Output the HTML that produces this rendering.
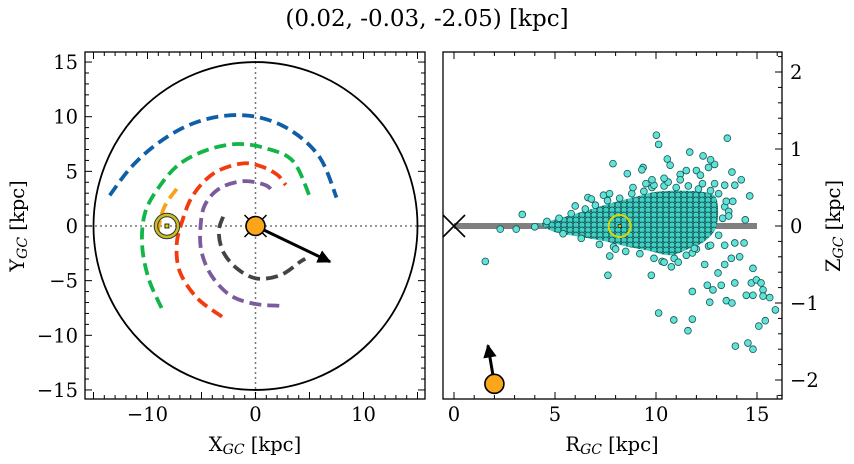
<!DOCTYPE html>
<html><head><meta charset="utf-8"><style>
html,body{margin:0;padding:0;background:#fff;}
svg{display:block;font-family:"DejaVu Serif","Liberation Serif",serif;}
</style></head><body>
<svg id="fig" width="854" height="464" viewBox="0 0 854 464" xmlns="http://www.w3.org/2000/svg">
<defs>
<pattern id="dots" width="6" height="5" patternUnits="userSpaceOnUse">
<rect width="6" height="5" fill="#1f8a85"/>
<circle cx="3" cy="2.5" r="3" fill="#3fcfc4" stroke="#0f4a47" stroke-width="0.8"/>
<circle cx="0" cy="0" r="3" fill="#3fcfc4" stroke="#0f4a47" stroke-width="0.8"/>
<circle cx="6" cy="0" r="3" fill="#3fcfc4" stroke="#0f4a47" stroke-width="0.8"/>
<circle cx="0" cy="5" r="3" fill="#3fcfc4" stroke="#0f4a47" stroke-width="0.8"/>
<circle cx="6" cy="5" r="3" fill="#3fcfc4" stroke="#0f4a47" stroke-width="0.8"/>
</pattern>
<marker id="ah" viewBox="0 0 10 10" refX="9" refY="5" markerWidth="4.5" markerHeight="4.5" orient="auto"><path d="M0,0 L10,5 L0,10 z" fill="#000"/></marker>
</defs>
<text x="427" y="26" font-size="23" text-anchor="middle">(0.02, -0.03, -2.05) [kpc]</text>
<g id="left"></g>
<g id="right"></g>
<text x="255" y="451" font-size="19.5" text-anchor="middle">X<tspan font-size="14" font-style="italic" dy="3">GC</tspan><tspan dy="-3"> [kpc]</tspan></text>
<text x="612" y="451" font-size="19.5" text-anchor="middle">R<tspan font-size="14" font-style="italic" dy="3">GC</tspan><tspan dy="-3"> [kpc]</tspan></text>
<text transform="translate(24,226) rotate(-90)" font-size="19.5" text-anchor="middle">Y<tspan font-size="14" font-style="italic" dy="3">GC</tspan><tspan dy="-3"> [kpc]</tspan></text>
<text transform="translate(840,226) rotate(-90)" font-size="19.5" text-anchor="middle">Z<tspan font-size="14" font-style="italic" dy="3">GC</tspan><tspan dy="-3"> [kpc]</tspan></text>
</svg>
<script>
// ---- data ----
const arcBlueX=[-13.5,-11.5,-9,-6,-2.7,0.5,3.5,6,7.5];
const arcBlueY=[2.8,5.4,7.6,9.3,10.1,9.9,8.6,6.2,2.6];
const arcGreenX=[-8.7,-9.9,-10.5,-10.2,-8.8,-7.0,-4.5,-1.7,1.0,3.5,5.1];
const arcGreenY=[-7.5,-4.8,-1.7,1.3,3.75,5.7,6.95,7.5,7.1,5.9,2.5];
const arcRedX=[-3.1,-5.4,-7.0,-7.3,-6.8,-5.8,-3.9,-1.4,0.4,2.0,2.8];
const arcRedY=[-8.3,-6.6,-4.2,-1.7,0.4,2.8,4.8,5.7,5.5,4.7,3.75];
const arcPurpleX=[2.2,-0.2,-2.4,-4.1,-5.0,-5.1,-4.7,-3.3,-1.1,0.9,1.65];
const arcPurpleY=[-7.3,-7.1,-6.3,-4.5,-2.35,-0.2,1.9,3.45,4.1,3.75,3.1];
const arcGrayX=[-3.0,-3.4,-3.0,-1.7,0.1,2.3,4.1,4.6];
const arcGrayY=[0.85,-0.5,-2.35,-3.9,-4.8,-4.5,-3.3,-3.0];
const arcOrangeX=[-7.3,-8.5,-9.2];
const arcOrangeY=[3.4,1.6,-1.1];
const xyTarget=[-8.2,0];
const xyArrowEnd=[6.9,-3.27];
const coreTopR=[4.2,5.5,6.8,7.8,9.0,9.9,11.0,12.4,13.0];
const coreTopZ=[0.03,0.12,0.22,0.30,0.38,0.44,0.46,0.44,0.35];
const coreBotR=[13.0,12.4,11.6,10.7,9.6,8.6,7.5,6.2,5.0];
const coreBotZ=[0.0,-0.2,-0.3,-0.38,-0.32,-0.27,-0.2,-0.14,-0.08];
const edgeR=[4.0,4.6,5.2,5.8,6.5,7.0,7.6,8.2,8.8,9.4,9.8,10.4,11.0,11.6,12.1,12.7,13.1,13.4,5.4,6.3,7.2,7.9,8.5,9.2,9.9,10.3,10.9,11.5,12.0,12.6,13.1,13.3,6.0,7.4,8.0,9.5,10.6,11.8,12.3];
const edgeZ=[-0.01,0.06,0.1,0.16,0.22,0.27,0.33,0.36,0.42,0.45,0.5,0.52,0.5,0.52,0.48,0.46,0.42,0.25,-0.1,-0.16,-0.24,-0.27,-0.33,-0.36,-0.42,-0.46,-0.42,-0.38,-0.3,-0.26,-0.12,0.1,0.26,0.4,-0.3,0.55,0.57,-0.35,0.55];
const starR=[10.02,10.13,13.53,7.87,11.67,12.33,10.56,9.36,8.58,13.76,14.22,14.64,14.42,14.36,3.38,2.29,3.08,1.55,7.62,9.77,7.71,10.13,10.88,11.8,11.58,11.8,12.54,12.82,12.66,13.48,13.76,13.9,13.07,13.23,14.8,14.72,14.97,15.2,14.47,14.8,15.3,15.3,15.63,15.91,15.41,15.09,13.93,14.55,14.8,13.4,12.41,13.73,14.14,10.76,10.4,11.1,11.9,12.7,13.4,13.9,13.48,13.8,13.6,13.6,12.9,13.4,13.9,11.5,12.0,11.2,10.7,9.9,9.8,9.3,6.63,6.8,7.7,8.86,12.9,12.6,12.7,12.2,11.2,10.4];
const starZ=[1.18,1.06,1.14,0.81,0.96,0.91,0.87,0.76,0.68,0.70,0.60,0.39,0.08,-0.22,0.15,-0.04,-0.04,-0.46,-0.64,-0.64,-0.39,-1.13,-1.22,-1.21,-1.36,-0.85,-0.77,-0.83,-0.99,-0.97,-1.0,-0.74,-0.61,-0.77,-0.55,-0.74,-0.7,-0.74,-0.9,-0.9,-0.83,-0.91,-0.93,-1.09,-1.23,-1.3,-1.56,-1.52,-1.6,-0.5,-0.5,-0.42,-0.4,-0.53,-0.47,-0.47,-0.29,-0.25,-0.25,-0.22,0.32,0.32,0.19,0.13,0.55,0.53,0.53,0.72,0.72,0.67,0.79,0.53,0.6,0.73,0.37,0.35,0.42,0.5,0.8,0.76,0.86,0.66,0.6,0.62];
const rzTarget=[8.2,0];
const rzObj=[2.0,-2.05];
const rzArrowEnd=[1.68,-1.55];
const xTicksL=[-10,0,10], yTicksL=[15,10,5,0,-5,-10,-15];
const xTicksR=[0,5,10,15], yTicksR=[2,1,0,-1,-2];

// ---- scales ----
const L={x0:85,x1:425,y0:52,y1:399};
const R={x0:443,x1:782,y0:52,y1:399};
const xs=x=>255.5+x*10.8, ys=y=>226-y*10.93;
const xr=r=>454+r*20.2, yr=z=>226-z*77;
const NS="http://www.w3.org/2000/svg";
function mk(parent,tag,attrs){const e=document.createElementNS(NS,tag);for(const k in attrs)e.setAttribute(k,attrs[k]);parent.appendChild(e);return e;}
function crPath(px,py){
  let d=`M${px[0]},${py[0]}`;
  for(let i=0;i<px.length-1;i++){
    const p0=[px[Math.max(i-1,0)],py[Math.max(i-1,0)]],p1=[px[i],py[i]],p2=[px[i+1],py[i+1]],p3=[px[Math.min(i+2,px.length-1)],py[Math.min(i+2,px.length-1)]];
    const c1=[p1[0]+(p2[0]-p0[0])/6,p1[1]+(p2[1]-p0[1])/6],c2=[p2[0]-(p3[0]-p1[0])/6,p2[1]-(p3[1]-p1[1])/6];
    d+=` C${c1[0]},${c1[1]} ${c2[0]},${c2[1]} ${p2[0]},${p2[1]}`;
  }
  return d;
}
const lg=document.getElementById('left'), rg=document.getElementById('right');

// ---- left panel ----
let e;
e=mk(lg,'line',{x1:L.x0,x2:L.x1,y1:ys(0),y2:ys(0),stroke:'#777','stroke-width':1.5,'stroke-dasharray':'2 3'});


e=mk(lg,'line',{x1:xs(0),x2:xs(0),y1:L.y0,y2:L.y1,stroke:'#777','stroke-width':1.5,'stroke-dasharray':'2 3'});


e=mk(lg,'ellipse',{cx:xs(0),cy:ys(0),rx:15*10.8,ry:15*10.93,fill:'none',stroke:'#000','stroke-width':1.8});


const arcs=[[arcBlueX,arcBlueY,'#0e5fa6','arc-blue'],[arcGreenX,arcGreenY,'#12b548','arc-green'],[arcRedX,arcRedY,'#f23b0e','arc-red'],[arcPurpleX,arcPurpleY,'#7b5a9e','arc-purple'],[arcGrayX,arcGrayY,'#444444','arc-gray'],[arcOrangeX,arcOrangeY,'#f7a21b','arc-orange']];
for(const a of arcs){
  e=mk(lg,'path',{d:crPath(a[0].map(xs),a[1].map(ys)),fill:'none',stroke:a[2],'stroke-width':3.8,'stroke-dasharray':'12 6'});
  
  
}
e=mk(lg,'circle',{cx:xs(xyTarget[0]),cy:ys(xyTarget[1]),r:11,fill:'none',stroke:'#333','stroke-width':4.5});


e=mk(lg,'circle',{cx:xs(xyTarget[0]),cy:ys(xyTarget[1]),r:11,fill:'none',stroke:'#c8c020','stroke-width':2.5});


e=mk(lg,'rect',{x:xs(xyTarget[0])-2,y:ys(xyTarget[1])-2,width:4,height:4,fill:'#d8d800',stroke:'#000','stroke-width':0.8});


e=mk(lg,'line',{x1:xs(0),y1:ys(0),x2:xs(xyArrowEnd[0]),y2:ys(xyArrowEnd[1]),stroke:'#000','stroke-width':3,'marker-end':'url(#ah)'});


e=mk(lg,'path',{d:`M${xs(0)-11},${ys(0)-11}L${xs(0)+11},${ys(0)+11}M${xs(0)+11},${ys(0)-11}L${xs(0)-11},${ys(0)+11}`,stroke:'#000','stroke-width':1.5});


e=mk(lg,'circle',{cx:xs(0),cy:ys(0),r:9.5,fill:'#fba51a',stroke:'#000','stroke-width':1.6});



// ---- right panel ----
e=mk(rg,'line',{x1:xr(0),x2:xr(15),y1:yr(0),y2:yr(0),stroke:'#808080','stroke-width':6});


const cx=coreTopR.concat(coreBotR).map(xr), cy=coreTopZ.concat(coreBotZ).map(yr);
e=mk(rg,'path',{d:crPath(cx.concat([cx[0]]),cy.concat([cy[0]]))+'Z',fill:'url(#dots)',stroke:'none'});


const allR=edgeR.concat(starR), allZ=edgeZ.concat(starZ);
for(let i=0;i<allR.length;i++){
  e=mk(rg,'circle',{cx:xr(allR[i]),cy:yr(allZ[i]),r:3.4,fill:'#5fe3d8',stroke:'#1b5552','stroke-width':0.8});
  
  
}
e=mk(rg,'path',{d:`M${xr(0)-11},${yr(0)-11}L${xr(0)+11},${yr(0)+11}M${xr(0)+11},${yr(0)-11}L${xr(0)-11},${yr(0)+11}`,stroke:'#000','stroke-width':1.6});


e=mk(rg,'circle',{cx:xr(rzTarget[0]),cy:yr(rzTarget[1]),r:11,fill:'none',stroke:'#d8d800','stroke-width':2});


e=mk(rg,'rect',{x:xr(rzTarget[0])-1.5,y:yr(rzTarget[1])-1.5,width:3,height:3,fill:'#d8d800',stroke:'#000','stroke-width':0.6});


e=mk(rg,'line',{x1:xr(rzObj[0]),y1:yr(rzObj[1]),x2:xr(rzArrowEnd[0]),y2:yr(rzArrowEnd[1]),stroke:'#000','stroke-width':3,'marker-end':'url(#ah)'});


e=mk(rg,'circle',{cx:xr(rzObj[0]),cy:yr(rzObj[1]),r:9.5,fill:'#fba51a',stroke:'#000','stroke-width':1.6});



// ---- axes ----
function frame(g,B,name){
  e=mk(g,'rect',{x:B.x0,y:B.y0,width:B.x1-B.x0,height:B.y1-B.y0,fill:'none',stroke:'#000','stroke-width':1.3});
  
  
}
function tick(g,x1,y1,x2,y2){mk(g,'line',{x1,y1,x2,y2,stroke:'#000','stroke-width':1});}
frame(lg,L,'xy-axes-frame'); frame(rg,R,'rz-axes-frame');
for(let v=-15;v<=15;v++){const len=v%5===0?7:4;
  const x=xs(v); tick(lg,x,L.y1,x,L.y1-len); tick(lg,x,L.y0,x,L.y0+len);
  const y=ys(v); tick(lg,L.x0,y,L.x0+len,y); tick(lg,L.x1,y,L.x1-len,y);}
for(let v=0;v<=16;v++){const len=v%5===0?7:4;const x=xr(v); tick(rg,x,R.y1,x,R.y1-len); tick(rg,x,R.y0,x,R.y0+len);}
for(let k=-11;k<=11;k++){const v=k/5;const len=k%5===0?7:4;const y=yr(v); tick(rg,R.x1,y,R.x1-len,y);}
const fmt=v=>v<0?'\u2212'+Math.abs(v):String(v);
for(const v of xTicksL){e=mk(lg,'text',{x:xs(v),y:421,'font-size':19.5,'text-anchor':'middle'});e.textContent=fmt(v);
  
  }
for(const v of yTicksL){e=mk(lg,'text',{x:78,y:ys(v)+7,'font-size':19.5,'text-anchor':'end'});e.textContent=fmt(v);
  
  }
for(const v of xTicksR){e=mk(rg,'text',{x:xr(v),y:421,'font-size':19.5,'text-anchor':'middle'});e.textContent=fmt(v);
  
  }
for(const v of yTicksR){e=mk(rg,'text',{x:790,y:yr(v)+7,'font-size':19.5,'text-anchor':'start'});e.textContent=fmt(v);
  
  }
</script>
</body></html>
